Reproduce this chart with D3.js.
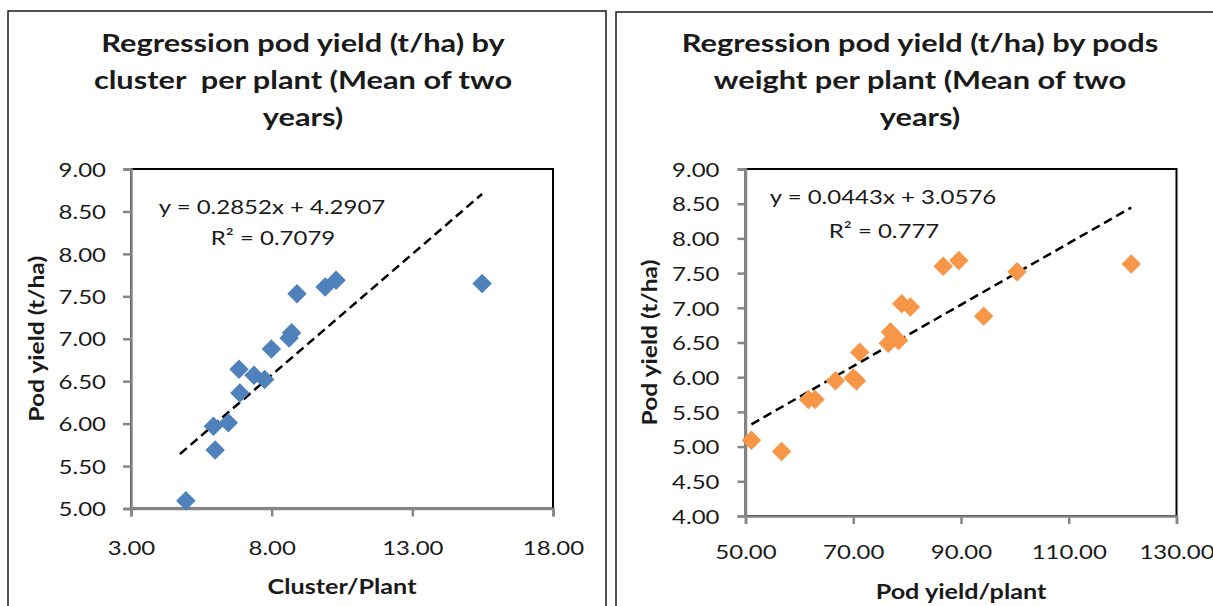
<!DOCTYPE html>
<html>
<head>
<meta charset="utf-8">
<script src="https://cdn.jsdelivr.net/npm/d3@7"></script>
<style>
  body { margin: 0; background: #fff; }
  svg { display: block; }
  text { font-family: Lato, "Open Sans", sans-serif; fill: #1a1a1a; }
</style>
</head>
<body>
<div id="chart"></div>
<script>
// Cluster per plant (x) against pod yield t/ha (y)
var clusterX     = [4.74, 4.95, 5.99, 5.93, 6.46, 6.87, 6.84, 7.37, 7.75, 7.99, 8.62, 8.71, 8.90, 9.90, 10.29, 15.48];
var clusterYield = [4.93, 5.09, 5.69, 5.97, 6.01, 6.36, 6.64, 6.57, 6.52, 6.88, 7.01, 7.07, 7.53, 7.61, 7.69, 7.65];
// Pods weight per plant (x) against pod yield t/ha (y)
var podX     = [51.1, 56.7, 61.7, 62.9, 66.7, 70.0, 70.6, 71.2, 76.5, 76.9, 78.4, 79.0, 80.6, 86.7, 89.6, 94.2, 100.4, 121.6];
var podYield = [5.09, 4.93, 5.68, 5.68, 5.95, 5.99, 5.95, 6.36, 6.49, 6.65, 6.53, 7.06, 7.01, 7.60, 7.68, 6.88, 7.52, 7.63];

// tick labels
var clusterTicksX = [3, 8, 13, 18];
var clusterTicksY = [5, 5.5, 6, 6.5, 7, 7.5, 8, 8.5, 9];
var podTicksX = [50, 70, 90, 110, 130];
var podTicksY = [4, 4.5, 5, 5.5, 6, 6.5, 7, 7.5, 8, 8.5, 9];

// linear trend (slope, intercept) and its labels
var clusterFit = [0.2852, 4.2907];
var podFit     = [0.0443, 3.0576];
var clusterEq  = ["y = 0.2852x + 4.2907", "R\u00B2 = 0.7079"];
var podEq      = ["y = 0.0443x + 3.0576", "R\u00B2 = 0.777"];

var clusterTitle = ["Regression pod yield (t/ha) by", "cluster  per plant (Mean of two", "years)"];
var podTitle     = ["Regression pod yield (t/ha) by pods", "weight per plant (Mean of two", "years)"];

var W = 1213, H = 606;
var SX = 1.2;      // horizontal stretch of the text, as in the picture

var svg = d3.select("#chart").append("svg")
    .attr("width", W).attr("height", H);

// put a text at x,y stretched horizontally
function label(g, x, y, s, o) {
    o = o || {};
    var t = g.append("text")
        .attr("transform", "translate(" + x + "," + y + ")" + (o.rotate ? " rotate(" + o.rotate + ")" : "") +
              " scale(" + (o.sx || SX) + ",1)")
        .attr("text-anchor", o.anchor || "middle")
        .attr("font-size", o.size || 20)
        .attr("font-weight", o.weight || "normal")
        .style("white-space", "pre")
        .text(s);
    return t;
}

function panel(p) {
    var g = svg.append("g");

    // outer chart frame
    g.append("rect")
        .attr("x", p.frame[0]).attr("y", p.frame[1])
        .attr("width", p.frame[2]).attr("height", 700)
        .attr("fill", "#fff").attr("stroke", "#1a1a1a").attr("stroke-width", 1.5);

    // title
    p.title.forEach(function(line, i) {
        label(g, p.titleX, 52 + i * 37, line, {size: 25, weight: "bold", sx: 1.23});
    });

    var x = d3.scaleLinear().domain(p.xDomain).range([p.left, p.right]);
    var y = d3.scaleLinear().domain(p.yDomain).range([p.bottom, p.top]);

    // plot area border
    g.append("rect")
        .attr("x", p.left).attr("y", p.top)
        .attr("width", p.right - p.left).attr("height", p.bottom - p.top)
        .attr("fill", "none").attr("stroke", "#000").attr("stroke-width", 2);

    // axes
    var ax = g.append("g").attr("transform", "translate(0," + p.bottom + ")")
        .call(d3.axisBottom(x).tickValues(p.xTicks).tickSize(8).tickFormat(d3.format(".2f")));
    var ay = g.append("g").attr("transform", "translate(" + p.left + ",0)")
        .call(d3.axisLeft(y).tickValues(p.yTicks).tickSize(8).tickFormat(d3.format(".2f")));

    [ax, ay].forEach(function(a) {
        a.select(".domain").attr("stroke", "#868686").attr("stroke-width", 2.5);
        a.selectAll(".tick line").attr("stroke", "#868686").attr("stroke-width", 2.5);
        a.selectAll(".tick text")
            .attr("font-family", "Lato, sans-serif").attr("font-size", 20).attr("fill", "#1a1a1a");
    });
    ax.selectAll(".tick text")
        .attr("y", p.xLabelGap).attr("dy", 0)
        .attr("transform", "scale(" + SX + ",1)");
    ay.selectAll(".tick text")
        .attr("x", -p.yLabelGap / SX).attr("dy", "0.36em")
        .attr("transform", "scale(" + SX + ",1)");

    // trend line over the range of the data
    var ext = d3.extent(p.xs);
    var line = d3.line().x(function(d) { return x(d); })
        .y(function(d) { return y(p.fit[0] * d + p.fit[1]); });
    g.append("path")
        .attr("d", line(ext))
        .attr("fill", "none").attr("stroke", "#000")
        .attr("stroke-width", 2.5).attr("stroke-dasharray", "9,5");

    // points (those below the y axis minimum are not shown)
    var pts = p.xs.map(function(d, i) { return [d, p.ys[i]]; })
        .filter(function(d) { return d[1] >= p.yDomain[0]; });
    g.append("g").selectAll("path")
        .data(pts)
        .enter().append("path")
        .attr("d", d3.symbol(d3.symbolSquare, 190))
        .attr("transform", function(d) { return "translate(" + x(d[0]) + "," + y(d[1]) + ") rotate(45)"; })
        .attr("fill", p.color);

    // equation
    label(g, p.eqPos[0], p.eqPos[1], p.eq[0]);
    label(g, p.eqPos[0] + 1, p.eqPos[2], p.eq[1]);

    // axis titles
    label(g, (p.left + p.right) / 2, p.xTitleY, p.xTitle, {weight: "bold", size: 21, sx: 1.2});
    label(g, p.yTitleX, (p.top + p.bottom) / 2, p.yTitle, {weight: "bold", size: 21, sx: 1.17, rotate: -90});
}

panel({
    frame: [8, 11, 598], titleX: 303, title: clusterTitle,
    left: 131, right: 553, top: 169, bottom: 508.5,
    xDomain: [3, 18], yDomain: [5, 9], xTicks: clusterTicksX, yTicks: clusterTicksY,
    xLabelGap: 47, yLabelGap: 25,
    xs: clusterX, ys: clusterYield, fit: clusterFit, color: "#4F81BD",
    eq: clusterEq, eqPos: [272, 214, 245],
    xTitle: "Cluster/Plant", xTitleY: 594, yTitle: "Pod yield (t/ha)", yTitleX: 44
});

panel({
    frame: [616, 12, 620], titleX: 920, title: podTitle,
    left: 745.5, right: 1176.5, top: 169, bottom: 516,
    xDomain: [50, 130], yDomain: [4, 9], xTicks: podTicksX, yTicks: podTicksY,
    xLabelGap: 43, yLabelGap: 26,
    xs: podX, ys: podYield, fit: podFit, color: "#F79646",
    eq: podEq, eqPos: [883, 204, 238],
    xTitle: "Pod yield/plant", xTitleY: 599, yTitle: "Pod yield (t/ha)", yTitleX: 657
});
</script>
</body>
</html>
